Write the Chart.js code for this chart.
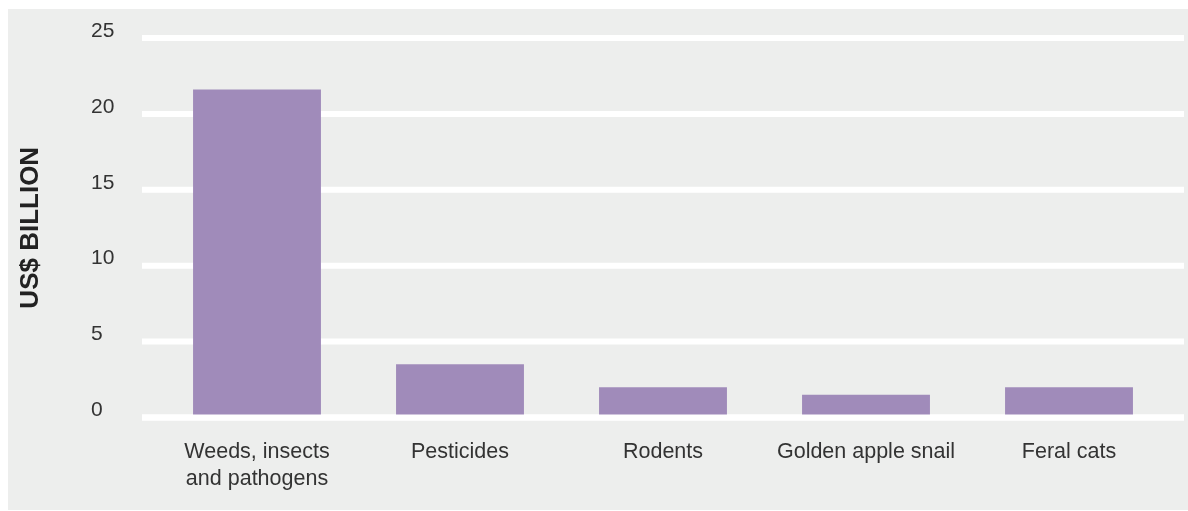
<!DOCTYPE html>
<html>
<head>
<meta charset="utf-8">
<script src="https://cdn.jsdelivr.net/npm/chart.js@4.4.1/dist/chart.umd.min.js"></script>
<style>
  body { margin: 0; background: #ffffff; }
  #panel { position: absolute; left: 8px; top: 9px; width: 1180px; height: 501px; background: #edeeed; }
</style>
</head>
<body>
<div id="panel"><canvas id="costChart" width="1180" height="501"></canvas></div>
<script>
var categories = [['Weeds, insects', 'and pathogens'], 'Pesticides', 'Rodents', 'Golden apple snail', 'Feral cats'];
var costs = [21.6, 3.5, 2.0, 1.5, 2.0];
var yTicks = [0, 5, 10, 15, 20, 25];
var axisTitle = 'US$ BILLION';

var font = "'Liberation Sans', Arial, Helvetica, sans-serif";
var textColor = '#333333';

// white horizontal rules, a bit wider than the bar area
var gridLines = {
	id: 'gridLines',
	drawLine: function (chart, value) {
		var ctx = chart.ctx;
		var area = chart.chartArea;
		var y = chart.scales.y.getPixelForValue(value);
		ctx.save();
		ctx.strokeStyle = '#ffffff';
		ctx.lineWidth = 6;
		ctx.beginPath();
		ctx.moveTo(area.left - 13.5, y);
		ctx.lineTo(area.right + 13.5, y);
		ctx.stroke();
		ctx.restore();
	},
	beforeDatasetsDraw: function (chart) {
		var self = this;
		yTicks.forEach(function (v) {
			self.drawLine(chart, v);
		});
	},
	afterDatasetsDraw: function (chart) {
		// baseline sits on top of the bars
		this.drawLine(chart, 0);
	}
};

// rotated axis title at the far left
var sideTitle = {
	id: 'sideTitle',
	afterDraw: function (chart) {
		var ctx = chart.ctx;
		var area = chart.chartArea;
		ctx.save();
		ctx.translate(23, (area.top + area.bottom) / 2);
		ctx.rotate(-Math.PI / 2);
		ctx.font = 'bold 26px ' + font;
		ctx.fillStyle = '#222222';
		ctx.textAlign = 'center';
		ctx.textBaseline = 'middle';
		ctx.fillText(axisTitle, 0, 0);
		ctx.restore();
	}
};

var ctx = document.getElementById('costChart').getContext('2d');
var costChart = new Chart(ctx, {
	type: 'bar',
	data: {
		labels: categories,
		datasets: [{
			data: costs,
			backgroundColor: '#a08bba',
			borderWidth: 0,
			barPercentage: 0.63,
			categoryPercentage: 1
		}]
	},
	options: {
		responsive: false,
		animation: false,
		layout: {
			padding: { left: 83, top: 29, right: 17.5, bottom: 0 }
		},
		plugins: {
			legend: { display: false },
			tooltip: { enabled: false }
		},
		scales: {
			x: {
				grid: { display: false, drawTicks: false },
				border: { display: false },
				ticks: {
					color: textColor,
					padding: 21,
					maxRotation: 0,
					autoSkip: false,
					font: { family: font, size: 21.5, lineHeight: 1.25 }
				},
				afterFit: function (scale) {
					scale.height = 92.5;
				}
			},
			y: {
				min: 0,
				max: 25,
				grid: { display: false, drawTicks: false },
				border: { display: false },
				ticks: {
					stepSize: 5,
					color: textColor,
					crossAlign: 'far',
					labelOffset: -7,
					font: { family: font, size: 21 }
				},
				afterFit: function (scale) {
					scale.width = 64.5;
				}
			}
		}
	},
	plugins: [gridLines, sideTitle]
});
</script>
</body>
</html>
